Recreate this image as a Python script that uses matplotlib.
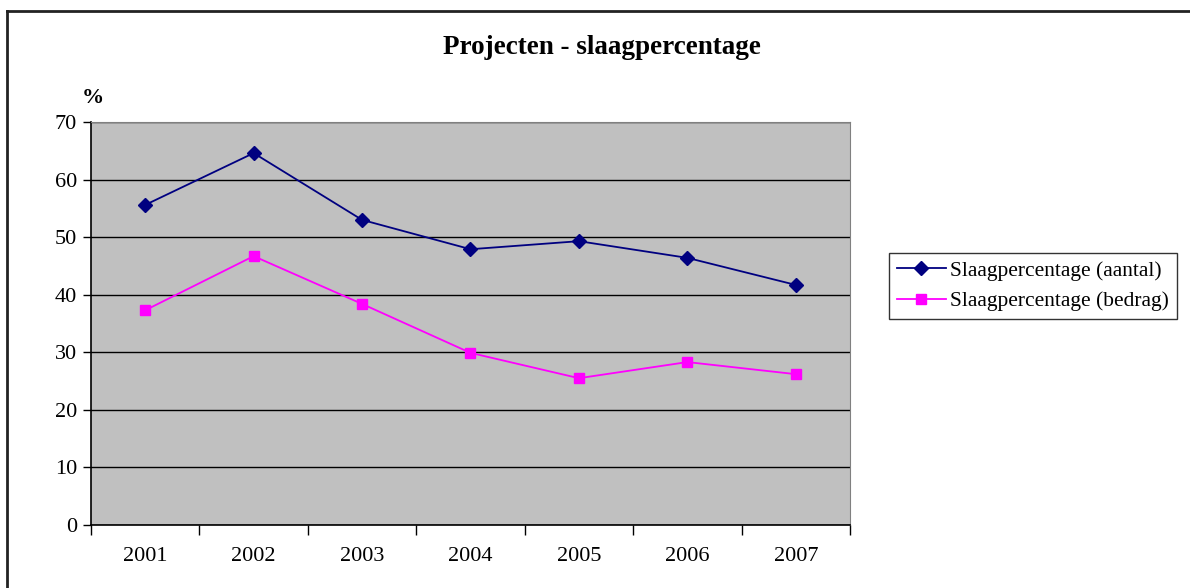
import matplotlib
matplotlib.use("Agg")
import matplotlib.pyplot as plt
from matplotlib.lines import Line2D
import numpy as np

jaren = ["2001", "2002", "2003", "2004", "2005", "2006", "2007"]
aantal = [55.6, 64.6, 53.0, 47.9, 49.3, 46.4, 41.7]
bedrag = [37.3, 46.7, 38.4, 29.9, 25.5, 28.3, 26.2]

plt.rcParams['font.family'] = ['Liberation Serif', 'DejaVu Serif']

fig = plt.figure(figsize=(11.9, 5.88), dpi=100)
ax = fig.add_axes([91/1190, 1 - 525/588, 759/1190, 403/588])
ax.set_facecolor('#c0c0c0')

x = np.arange(len(jaren))
ax.plot(x, aantal, color='#000080', marker='D', markersize=7, lw=1.3,
        label='Slaagpercentage (aantal)')
ax.plot(x, bedrag, color='#ff00ff', marker='s', markersize=7, lw=1.3,
        label='Slaagpercentage (bedrag)')

ax.set_xlim(-0.5, len(jaren) - 0.5)
ax.set_ylim(0, 70)
ax.set_yticks(range(0, 71, 10))
ax.yaxis.grid(True, color='black', lw=1)
ax.set_axisbelow(True)

ax.set_xticks(x)
ax.set_xticklabels(jaren)
ax.set_xticks(np.arange(-0.5, len(jaren), 1), minor=True)
ax.tick_params(axis='x', which='major', length=0, pad=16, labelsize=16)
ax.tick_params(axis='x', which='minor', length=7, width=1, direction='out')
ax.tick_params(axis='y', length=6, width=1, labelsize=16, pad=4)

for s in ['top', 'right']:
    ax.spines[s].set_color('#808080')
for s in ['left', 'bottom']:
    ax.spines[s].set_color('black')
    ax.spines[s].set_linewidth(1.2)

ax.text(-0.48, 74.2, '%', fontsize=16, fontweight='bold', ha='center', va='center')

fig.text(602/1190, 1 - 48/588, 'Projecten - slaagpercentage', fontsize=19.5,
         fontweight='bold', ha='center', va='center')

leg = fig.legend(loc='center left', bbox_to_anchor=(889/1190, 1 - 286/588),
                 fontsize=15.5, frameon=True, fancybox=False, borderpad=0.35,
                 handlelength=2.3, handletextpad=0.2, labelspacing=0.5,
                 borderaxespad=0)
leg.get_frame().set_edgecolor('black')
leg.get_frame().set_linewidth(1)

# outer chart frame (cut off at right and bottom)
fig.add_artist(Line2D([7/1190, 7/1190], [0, 1 - 11/588], color='#222222', lw=2,
                      transform=fig.transFigure))
fig.add_artist(Line2D([7/1190, 1], [1 - 11/588, 1 - 11/588], color='#222222', lw=2,
                      transform=fig.transFigure))

fig.savefig('out.png', dpi=100)
